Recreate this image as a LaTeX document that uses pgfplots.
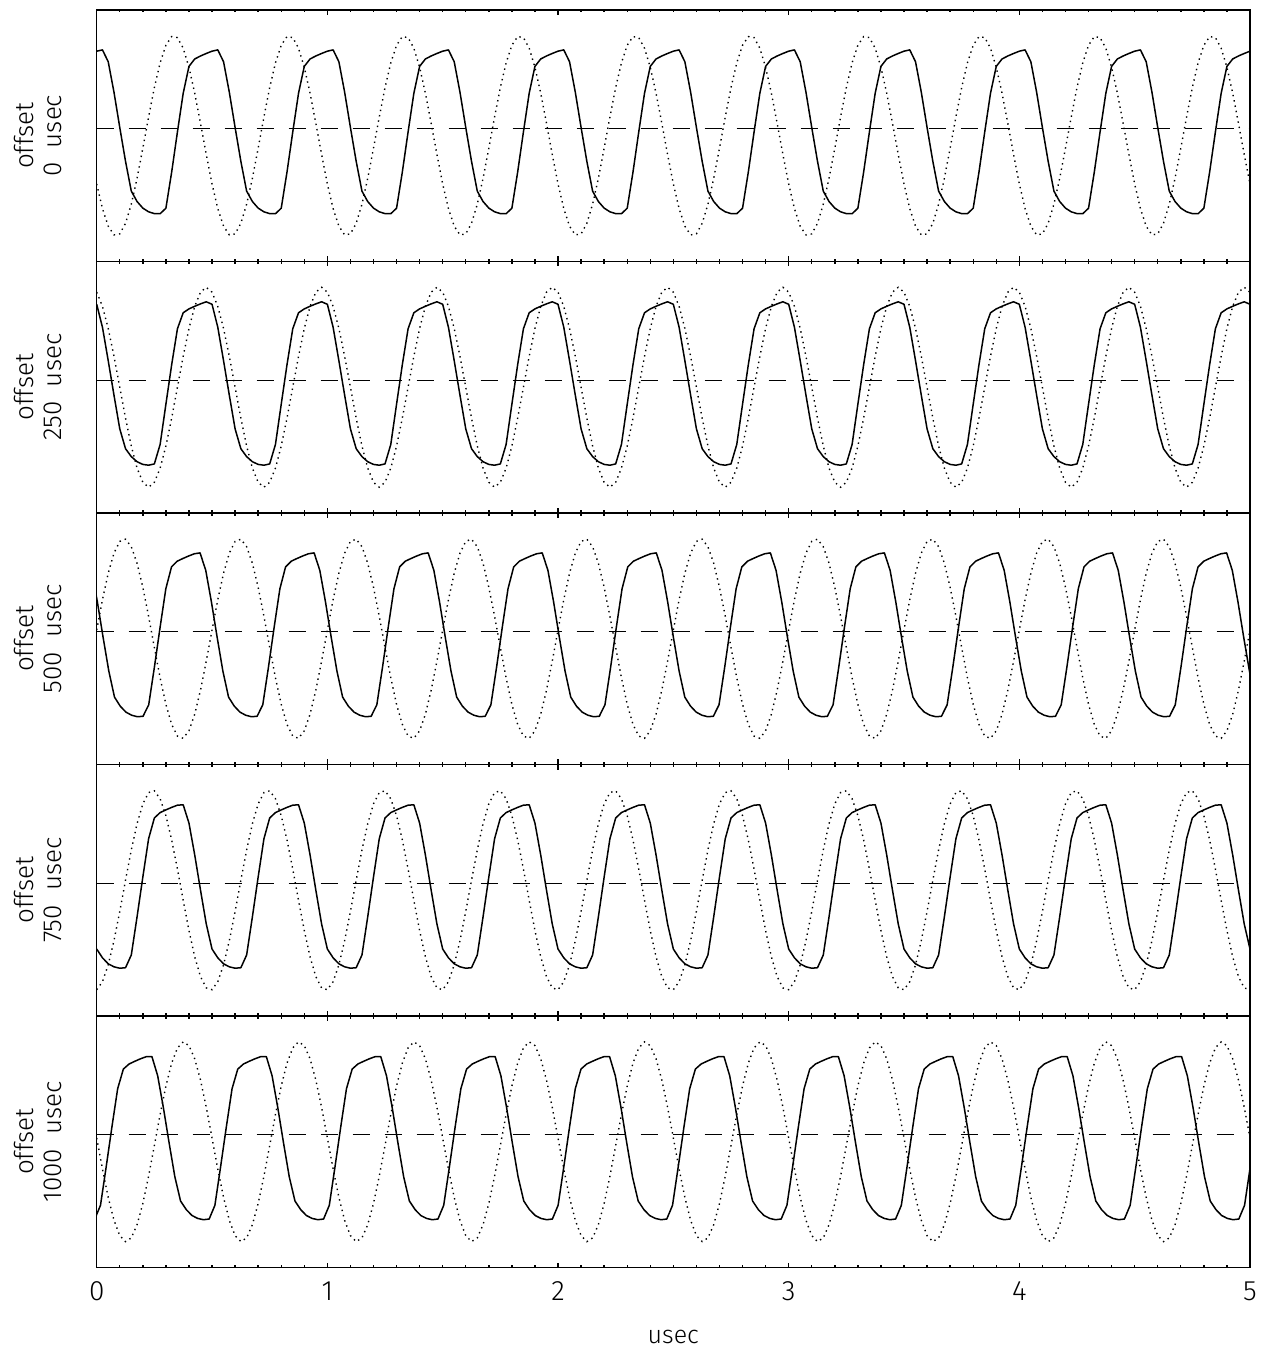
\documentclass[border=0pt]{standalone}
\usepackage{fontspec}
\setmainfont{Fira Sans Light}
\usepackage{pgfplots}
\usepackage{pgfplotstable}
\pgfplotsset{compat=1.18}

% columns: time (usec), measured signal s, reference sine d
\pgfplotstableread{
x s d
0 0.846 -0.482
0.025 0.859 -0.729
0.05 0.740 -0.905
0.075 0.435 -0.992
0.1 0.083 -0.982
0.125 -0.256 -0.876
0.15 -0.554 -0.685
0.175 -0.658 -0.426
0.2 -0.724 -0.125
0.225 -0.761 0.187
0.25 -0.779 0.482
0.275 -0.780 0.729
0.3 -0.725 0.905
0.325 -0.364 0.992
0.35 0.038 0.982
0.375 0.425 0.876
0.4 0.694 0.685
0.425 0.768 0.426
0.45 0.798 0.125
0.475 0.823 -0.187
0.5 0.846 -0.482
0.525 0.859 -0.729
0.55 0.740 -0.905
0.575 0.435 -0.992
0.6 0.083 -0.982
0.625 -0.256 -0.876
0.65 -0.554 -0.685
0.675 -0.658 -0.426
0.7 -0.724 -0.125
0.725 -0.761 0.187
0.75 -0.779 0.482
0.775 -0.780 0.729
0.8 -0.725 0.905
0.825 -0.364 0.992
0.85 0.038 0.982
0.875 0.425 0.876
0.9 0.694 0.685
0.925 0.768 0.426
0.95 0.798 0.125
0.975 0.823 -0.187
1 0.846 -0.482
1.025 0.859 -0.729
1.05 0.740 -0.905
1.075 0.435 -0.992
1.1 0.083 -0.982
1.125 -0.256 -0.876
1.15 -0.554 -0.685
1.175 -0.658 -0.426
1.2 -0.724 -0.125
1.225 -0.761 0.187
1.25 -0.779 0.482
1.275 -0.780 0.729
1.3 -0.725 0.905
1.325 -0.364 0.992
1.35 0.038 0.982
1.375 0.425 0.876
1.4 0.694 0.685
1.425 0.768 0.426
1.45 0.798 0.125
1.475 0.823 -0.187
1.5 0.846 -0.482
1.525 0.859 -0.729
1.55 0.740 -0.905
1.575 0.435 -0.992
1.6 0.083 -0.982
1.625 -0.256 -0.876
1.65 -0.554 -0.685
1.675 -0.658 -0.426
1.7 -0.724 -0.125
1.725 -0.761 0.187
1.75 -0.779 0.482
1.775 -0.780 0.729
1.8 -0.725 0.905
1.825 -0.364 0.992
1.85 0.038 0.982
1.875 0.425 0.876
1.9 0.694 0.685
1.925 0.768 0.426
1.95 0.798 0.125
1.975 0.823 -0.187
2 0.846 -0.482
2.025 0.859 -0.729
2.05 0.740 -0.905
2.075 0.435 -0.992
2.1 0.083 -0.982
2.125 -0.256 -0.876
2.15 -0.554 -0.685
2.175 -0.658 -0.426
2.2 -0.724 -0.125
2.225 -0.761 0.187
2.25 -0.779 0.482
2.275 -0.780 0.729
2.3 -0.725 0.905
2.325 -0.364 0.992
2.35 0.038 0.982
2.375 0.425 0.876
2.4 0.694 0.685
2.425 0.768 0.426
2.45 0.798 0.125
2.475 0.823 -0.187
2.5 0.846 -0.482
2.525 0.859 -0.729
2.55 0.740 -0.905
2.575 0.435 -0.992
2.6 0.083 -0.982
2.625 -0.256 -0.876
2.65 -0.554 -0.685
2.675 -0.658 -0.426
2.7 -0.724 -0.125
2.725 -0.761 0.187
2.75 -0.779 0.482
2.775 -0.780 0.729
2.8 -0.725 0.905
2.825 -0.364 0.992
2.85 0.038 0.982
2.875 0.425 0.876
2.9 0.694 0.685
2.925 0.768 0.426
2.95 0.798 0.125
2.975 0.823 -0.187
3 0.846 -0.482
3.025 0.859 -0.729
3.05 0.740 -0.905
3.075 0.435 -0.992
3.1 0.083 -0.982
3.125 -0.256 -0.876
3.15 -0.554 -0.685
3.175 -0.658 -0.426
3.2 -0.724 -0.125
3.225 -0.761 0.187
3.25 -0.779 0.482
3.275 -0.780 0.729
3.3 -0.725 0.905
3.325 -0.364 0.992
3.35 0.038 0.982
3.375 0.425 0.876
3.4 0.694 0.685
3.425 0.768 0.426
3.45 0.798 0.125
3.475 0.823 -0.187
3.5 0.846 -0.482
3.525 0.859 -0.729
3.55 0.740 -0.905
3.575 0.435 -0.992
3.6 0.083 -0.982
3.625 -0.256 -0.876
3.65 -0.554 -0.685
3.675 -0.658 -0.426
3.7 -0.724 -0.125
3.725 -0.761 0.187
3.75 -0.779 0.482
3.775 -0.780 0.729
3.8 -0.725 0.905
3.825 -0.364 0.992
3.85 0.038 0.982
3.875 0.425 0.876
3.9 0.694 0.685
3.925 0.768 0.426
3.95 0.798 0.125
3.975 0.823 -0.187
4 0.846 -0.482
4.025 0.859 -0.729
4.05 0.740 -0.905
4.075 0.435 -0.992
4.1 0.083 -0.982
4.125 -0.256 -0.876
4.15 -0.554 -0.685
4.175 -0.658 -0.426
4.2 -0.724 -0.125
4.225 -0.761 0.187
4.25 -0.779 0.482
4.275 -0.780 0.729
4.3 -0.725 0.905
4.325 -0.364 0.992
4.35 0.038 0.982
4.375 0.425 0.876
4.4 0.694 0.685
4.425 0.768 0.426
4.45 0.798 0.125
4.475 0.823 -0.187
4.5 0.846 -0.482
4.525 0.859 -0.729
4.55 0.740 -0.905
4.575 0.435 -0.992
4.6 0.083 -0.982
4.625 -0.256 -0.876
4.65 -0.554 -0.685
4.675 -0.658 -0.426
4.7 -0.724 -0.125
4.725 -0.761 0.187
4.75 -0.779 0.482
4.775 -0.780 0.729
4.8 -0.725 0.905
4.825 -0.364 0.992
4.85 0.038 0.982
4.875 0.425 0.876
4.9 0.694 0.685
4.925 0.768 0.426
4.95 0.798 0.125
4.975 0.823 -0.187
5 0.846 -0.482
}\offsetA

\pgfplotstableread{
x s d
0 0.830 0.951
0.025 0.600 0.809
0.05 0.265 0.588
0.075 -0.080 0.309
0.1 -0.416 0
0.125 -0.615 -0.309
0.15 -0.694 -0.588
0.175 -0.745 -0.809
0.2 -0.772 -0.951
0.225 -0.780 -1
0.25 -0.767 -0.951
0.275 -0.572 -0.809
0.3 -0.170 -0.588
0.325 0.225 -0.309
0.35 0.585 0
0.375 0.745 0.309
0.4 0.784 0.588
0.425 0.810 0.809
0.45 0.834 0.951
0.475 0.855 1
0.5 0.830 0.951
0.525 0.600 0.809
0.55 0.265 0.588
0.575 -0.080 0.309
0.6 -0.416 0
0.625 -0.615 -0.309
0.65 -0.694 -0.588
0.675 -0.745 -0.809
0.7 -0.772 -0.951
0.725 -0.780 -1
0.75 -0.767 -0.951
0.775 -0.572 -0.809
0.8 -0.170 -0.588
0.825 0.225 -0.309
0.85 0.585 0
0.875 0.745 0.309
0.9 0.784 0.588
0.925 0.810 0.809
0.95 0.834 0.951
0.975 0.855 1
1 0.830 0.951
1.025 0.600 0.809
1.05 0.265 0.588
1.075 -0.080 0.309
1.1 -0.416 0
1.125 -0.615 -0.309
1.15 -0.694 -0.588
1.175 -0.745 -0.809
1.2 -0.772 -0.951
1.225 -0.780 -1
1.25 -0.767 -0.951
1.275 -0.572 -0.809
1.3 -0.170 -0.588
1.325 0.225 -0.309
1.35 0.585 0
1.375 0.745 0.309
1.4 0.784 0.588
1.425 0.810 0.809
1.45 0.834 0.951
1.475 0.855 1
1.5 0.830 0.951
1.525 0.600 0.809
1.55 0.265 0.588
1.575 -0.080 0.309
1.6 -0.416 0
1.625 -0.615 -0.309
1.65 -0.694 -0.588
1.675 -0.745 -0.809
1.7 -0.772 -0.951
1.725 -0.780 -1
1.75 -0.767 -0.951
1.775 -0.572 -0.809
1.8 -0.170 -0.588
1.825 0.225 -0.309
1.85 0.585 0
1.875 0.745 0.309
1.9 0.784 0.588
1.925 0.810 0.809
1.95 0.834 0.951
1.975 0.855 1
2 0.830 0.951
2.025 0.600 0.809
2.05 0.265 0.588
2.075 -0.080 0.309
2.1 -0.416 0
2.125 -0.615 -0.309
2.15 -0.694 -0.588
2.175 -0.745 -0.809
2.2 -0.772 -0.951
2.225 -0.780 -1
2.25 -0.767 -0.951
2.275 -0.572 -0.809
2.3 -0.170 -0.588
2.325 0.225 -0.309
2.35 0.585 0
2.375 0.745 0.309
2.4 0.784 0.588
2.425 0.810 0.809
2.45 0.834 0.951
2.475 0.855 1
2.5 0.830 0.951
2.525 0.600 0.809
2.55 0.265 0.588
2.575 -0.080 0.309
2.6 -0.416 0
2.625 -0.615 -0.309
2.65 -0.694 -0.588
2.675 -0.745 -0.809
2.7 -0.772 -0.951
2.725 -0.780 -1
2.75 -0.767 -0.951
2.775 -0.572 -0.809
2.8 -0.170 -0.588
2.825 0.225 -0.309
2.85 0.585 0
2.875 0.745 0.309
2.9 0.784 0.588
2.925 0.810 0.809
2.95 0.834 0.951
2.975 0.855 1
3 0.830 0.951
3.025 0.600 0.809
3.05 0.265 0.588
3.075 -0.080 0.309
3.1 -0.416 0
3.125 -0.615 -0.309
3.15 -0.694 -0.588
3.175 -0.745 -0.809
3.2 -0.772 -0.951
3.225 -0.780 -1
3.25 -0.767 -0.951
3.275 -0.572 -0.809
3.3 -0.170 -0.588
3.325 0.225 -0.309
3.35 0.585 0
3.375 0.745 0.309
3.4 0.784 0.588
3.425 0.810 0.809
3.45 0.834 0.951
3.475 0.855 1
3.5 0.830 0.951
3.525 0.600 0.809
3.55 0.265 0.588
3.575 -0.080 0.309
3.6 -0.416 0
3.625 -0.615 -0.309
3.65 -0.694 -0.588
3.675 -0.745 -0.809
3.7 -0.772 -0.951
3.725 -0.780 -1
3.75 -0.767 -0.951
3.775 -0.572 -0.809
3.8 -0.170 -0.588
3.825 0.225 -0.309
3.85 0.585 0
3.875 0.745 0.309
3.9 0.784 0.588
3.925 0.810 0.809
3.95 0.834 0.951
3.975 0.855 1
4 0.830 0.951
4.025 0.600 0.809
4.05 0.265 0.588
4.075 -0.080 0.309
4.1 -0.416 0
4.125 -0.615 -0.309
4.15 -0.694 -0.588
4.175 -0.745 -0.809
4.2 -0.772 -0.951
4.225 -0.780 -1
4.25 -0.767 -0.951
4.275 -0.572 -0.809
4.3 -0.170 -0.588
4.325 0.225 -0.309
4.35 0.585 0
4.375 0.745 0.309
4.4 0.784 0.588
4.425 0.810 0.809
4.45 0.834 0.951
4.475 0.855 1
4.5 0.830 0.951
4.525 0.600 0.809
4.55 0.265 0.588
4.575 -0.080 0.309
4.6 -0.416 0
4.625 -0.615 -0.309
4.65 -0.694 -0.588
4.675 -0.745 -0.809
4.7 -0.772 -0.951
4.725 -0.780 -1
4.75 -0.767 -0.951
4.775 -0.572 -0.809
4.8 -0.170 -0.588
4.825 0.225 -0.309
4.85 0.585 0
4.875 0.745 0.309
4.9 0.784 0.588
4.925 0.810 0.809
4.95 0.834 0.951
4.975 0.855 1
5 0.830 0.951
}\offsetB

% offset 500 usec: signal period 0.4945 usec
\pgfplotstableread{
x s
-0.0217 0.684
0.0030 0.367
0.0277 0.015
0.0525 -0.323
0.0772 -0.584
0.1019 -0.674
0.1266 -0.734
0.1514 -0.765
0.1761 -0.780
0.2008 -0.776
0.2255 -0.661
0.2503 -0.282
0.2750 0.117
0.2997 0.500
0.3244 0.719
0.3492 0.776
0.3739 0.803
0.3986 0.828
0.4233 0.850
0.4481 0.859
0.4728 0.684
0.4975 0.367
0.5222 0.015
0.5470 -0.323
0.5717 -0.584
0.5964 -0.674
0.6211 -0.734
0.6459 -0.765
0.6706 -0.780
0.6953 -0.776
0.7200 -0.661
0.7448 -0.282
0.7695 0.117
0.7942 0.500
0.8189 0.719
0.8437 0.776
0.8684 0.803
0.8931 0.828
0.9178 0.850
0.9426 0.859
0.9673 0.684
0.9920 0.367
1.0167 0.015
1.0415 -0.323
1.0662 -0.584
1.0909 -0.674
1.1156 -0.734
1.1404 -0.765
1.1651 -0.780
1.1898 -0.776
1.2145 -0.661
1.2393 -0.282
1.2640 0.117
1.2887 0.500
1.3134 0.719
1.3382 0.776
1.3629 0.803
1.3876 0.828
1.4123 0.850
1.4371 0.859
1.4618 0.684
1.4865 0.367
1.5112 0.015
1.5360 -0.323
1.5607 -0.584
1.5854 -0.674
1.6101 -0.734
1.6349 -0.765
1.6596 -0.780
1.6843 -0.776
1.7090 -0.661
1.7338 -0.282
1.7585 0.117
1.7832 0.500
1.8079 0.719
1.8327 0.776
1.8574 0.803
1.8821 0.828
1.9068 0.850
1.9316 0.859
1.9563 0.684
1.9810 0.367
2.0057 0.015
2.0305 -0.323
2.0552 -0.584
2.0799 -0.674
2.1046 -0.734
2.1294 -0.765
2.1541 -0.780
2.1788 -0.776
2.2035 -0.661
2.2283 -0.282
2.2530 0.117
2.2777 0.500
2.3024 0.719
2.3272 0.776
2.3519 0.803
2.3766 0.828
2.4013 0.850
2.4261 0.859
2.4508 0.684
2.4755 0.367
2.5002 0.015
2.5250 -0.323
2.5497 -0.584
2.5744 -0.674
2.5991 -0.734
2.6239 -0.765
2.6486 -0.780
2.6733 -0.776
2.6980 -0.661
2.7228 -0.282
2.7475 0.117
2.7722 0.500
2.7969 0.719
2.8217 0.776
2.8464 0.803
2.8711 0.828
2.8958 0.850
2.9206 0.859
2.9453 0.684
2.9700 0.367
2.9947 0.015
3.0195 -0.323
3.0442 -0.584
3.0689 -0.674
3.0936 -0.734
3.1184 -0.765
3.1431 -0.780
3.1678 -0.776
3.1925 -0.661
3.2173 -0.282
3.2420 0.117
3.2667 0.500
3.2914 0.719
3.3162 0.776
3.3409 0.803
3.3656 0.828
3.3903 0.850
3.4151 0.859
3.4398 0.684
3.4645 0.367
3.4892 0.015
3.5140 -0.323
3.5387 -0.584
3.5634 -0.674
3.5881 -0.734
3.6129 -0.765
3.6376 -0.780
3.6623 -0.776
3.6870 -0.661
3.7118 -0.282
3.7365 0.117
3.7612 0.500
3.7859 0.719
3.8107 0.776
3.8354 0.803
3.8601 0.828
3.8848 0.850
3.9096 0.859
3.9343 0.684
3.9590 0.367
3.9837 0.015
4.0085 -0.323
4.0332 -0.584
4.0579 -0.674
4.0826 -0.734
4.1074 -0.765
4.1321 -0.780
4.1568 -0.776
4.1815 -0.661
4.2063 -0.282
4.2310 0.117
4.2557 0.500
4.2804 0.719
4.3052 0.776
4.3299 0.803
4.3546 0.828
4.3793 0.850
4.4041 0.859
4.4288 0.684
4.4535 0.367
4.4782 0.015
4.5030 -0.323
4.5277 -0.584
4.5524 -0.674
4.5771 -0.734
4.6019 -0.765
4.6266 -0.780
4.6513 -0.776
4.6760 -0.661
4.7008 -0.282
4.7255 0.117
4.7502 0.500
4.7749 0.719
4.7997 0.776
4.8244 0.803
4.8491 0.828
4.8738 0.850
4.8986 0.859
4.9233 0.684
4.9480 0.367
4.9727 0.015
4.9975 -0.323
5.0222 -0.584
}\offsetCs

\pgfplotstableread{
x d
0 0.087
0.025 0.391
0.05 0.656
0.075 0.857
0.1 0.974
0.125 0.996
0.15 0.921
0.175 0.755
0.2 0.515
0.225 0.225
0.25 -0.087
0.275 -0.391
0.3 -0.656
0.325 -0.857
0.35 -0.974
0.375 -0.996
0.4 -0.921
0.425 -0.755
0.45 -0.515
0.475 -0.225
0.5 0.087
0.525 0.391
0.55 0.656
0.575 0.857
0.6 0.974
0.625 0.996
0.65 0.921
0.675 0.755
0.7 0.515
0.725 0.225
0.75 -0.087
0.775 -0.391
0.8 -0.656
0.825 -0.857
0.85 -0.974
0.875 -0.996
0.9 -0.921
0.925 -0.755
0.95 -0.515
0.975 -0.225
1 0.087
1.025 0.391
1.05 0.656
1.075 0.857
1.1 0.974
1.125 0.996
1.15 0.921
1.175 0.755
1.2 0.515
1.225 0.225
1.25 -0.087
1.275 -0.391
1.3 -0.656
1.325 -0.857
1.35 -0.974
1.375 -0.996
1.4 -0.921
1.425 -0.755
1.45 -0.515
1.475 -0.225
1.5 0.087
1.525 0.391
1.55 0.656
1.575 0.857
1.6 0.974
1.625 0.996
1.65 0.921
1.675 0.755
1.7 0.515
1.725 0.225
1.75 -0.087
1.775 -0.391
1.8 -0.656
1.825 -0.857
1.85 -0.974
1.875 -0.996
1.9 -0.921
1.925 -0.755
1.95 -0.515
1.975 -0.225
2 0.087
2.025 0.391
2.05 0.656
2.075 0.857
2.1 0.974
2.125 0.996
2.15 0.921
2.175 0.755
2.2 0.515
2.225 0.225
2.25 -0.087
2.275 -0.391
2.3 -0.656
2.325 -0.857
2.35 -0.974
2.375 -0.996
2.4 -0.921
2.425 -0.755
2.45 -0.515
2.475 -0.225
2.5 0.087
2.525 0.391
2.55 0.656
2.575 0.857
2.6 0.974
2.625 0.996
2.65 0.921
2.675 0.755
2.7 0.515
2.725 0.225
2.75 -0.087
2.775 -0.391
2.8 -0.656
2.825 -0.857
2.85 -0.974
2.875 -0.996
2.9 -0.921
2.925 -0.755
2.95 -0.515
2.975 -0.225
3 0.087
3.025 0.391
3.05 0.656
3.075 0.857
3.1 0.974
3.125 0.996
3.15 0.921
3.175 0.755
3.2 0.515
3.225 0.225
3.25 -0.087
3.275 -0.391
3.3 -0.656
3.325 -0.857
3.35 -0.974
3.375 -0.996
3.4 -0.921
3.425 -0.755
3.45 -0.515
3.475 -0.225
3.5 0.087
3.525 0.391
3.55 0.656
3.575 0.857
3.6 0.974
3.625 0.996
3.65 0.921
3.675 0.755
3.7 0.515
3.725 0.225
3.75 -0.087
3.775 -0.391
3.8 -0.656
3.825 -0.857
3.85 -0.974
3.875 -0.996
3.9 -0.921
3.925 -0.755
3.95 -0.515
3.975 -0.225
4 0.087
4.025 0.391
4.05 0.656
4.075 0.857
4.1 0.974
4.125 0.996
4.15 0.921
4.175 0.755
4.2 0.515
4.225 0.225
4.25 -0.087
4.275 -0.391
4.3 -0.656
4.325 -0.857
4.35 -0.974
4.375 -0.996
4.4 -0.921
4.425 -0.755
4.45 -0.515
4.475 -0.225
4.5 0.087
4.525 0.391
4.55 0.656
4.575 0.857
4.6 0.974
4.625 0.996
4.65 0.921
4.675 0.755
4.7 0.515
4.725 0.225
4.75 -0.087
4.775 -0.391
4.8 -0.656
4.825 -0.857
4.85 -0.974
4.875 -0.996
4.9 -0.921
4.925 -0.755
4.95 -0.515
4.975 -0.225
5 0.087
}\offsetCd

\pgfplotstableread{
x s d
0 -0.588 -0.995
0.025 -0.676 -0.915
0.05 -0.736 -0.746
0.075 -0.766 -0.504
0.1 -0.780 -0.212
0.125 -0.775 0.100
0.15 -0.648 0.403
0.175 -0.266 0.666
0.2 0.132 0.864
0.225 0.515 0.977
0.25 0.723 0.995
0.275 0.777 0.915
0.3 0.804 0.746
0.325 0.829 0.504
0.35 0.851 0.212
0.375 0.855 -0.100
0.4 0.672 -0.403
0.425 0.353 -0.666
0.45 0.002 -0.864
0.475 -0.337 -0.977
0.5 -0.588 -0.995
0.525 -0.676 -0.915
0.55 -0.736 -0.746
0.575 -0.766 -0.504
0.6 -0.780 -0.212
0.625 -0.775 0.100
0.65 -0.648 0.403
0.675 -0.266 0.666
0.7 0.132 0.864
0.725 0.515 0.977
0.75 0.723 0.995
0.775 0.777 0.915
0.8 0.804 0.746
0.825 0.829 0.504
0.85 0.851 0.212
0.875 0.855 -0.100
0.9 0.672 -0.403
0.925 0.353 -0.666
0.95 0.002 -0.864
0.975 -0.337 -0.977
1 -0.588 -0.995
1.025 -0.676 -0.915
1.05 -0.736 -0.746
1.075 -0.766 -0.504
1.1 -0.780 -0.212
1.125 -0.775 0.100
1.15 -0.648 0.403
1.175 -0.266 0.666
1.2 0.132 0.864
1.225 0.515 0.977
1.25 0.723 0.995
1.275 0.777 0.915
1.3 0.804 0.746
1.325 0.829 0.504
1.35 0.851 0.212
1.375 0.855 -0.100
1.4 0.672 -0.403
1.425 0.353 -0.666
1.45 0.002 -0.864
1.475 -0.337 -0.977
1.5 -0.588 -0.995
1.525 -0.676 -0.915
1.55 -0.736 -0.746
1.575 -0.766 -0.504
1.6 -0.780 -0.212
1.625 -0.775 0.100
1.65 -0.648 0.403
1.675 -0.266 0.666
1.7 0.132 0.864
1.725 0.515 0.977
1.75 0.723 0.995
1.775 0.777 0.915
1.8 0.804 0.746
1.825 0.829 0.504
1.85 0.851 0.212
1.875 0.855 -0.100
1.9 0.672 -0.403
1.925 0.353 -0.666
1.95 0.002 -0.864
1.975 -0.337 -0.977
2 -0.588 -0.995
2.025 -0.676 -0.915
2.05 -0.736 -0.746
2.075 -0.766 -0.504
2.1 -0.780 -0.212
2.125 -0.775 0.100
2.15 -0.648 0.403
2.175 -0.266 0.666
2.2 0.132 0.864
2.225 0.515 0.977
2.25 0.723 0.995
2.275 0.777 0.915
2.3 0.804 0.746
2.325 0.829 0.504
2.35 0.851 0.212
2.375 0.855 -0.100
2.4 0.672 -0.403
2.425 0.353 -0.666
2.45 0.002 -0.864
2.475 -0.337 -0.977
2.5 -0.588 -0.995
2.525 -0.676 -0.915
2.55 -0.736 -0.746
2.575 -0.766 -0.504
2.6 -0.780 -0.212
2.625 -0.775 0.100
2.65 -0.648 0.403
2.675 -0.266 0.666
2.7 0.132 0.864
2.725 0.515 0.977
2.75 0.723 0.995
2.775 0.777 0.915
2.8 0.804 0.746
2.825 0.829 0.504
2.85 0.851 0.212
2.875 0.855 -0.100
2.9 0.672 -0.403
2.925 0.353 -0.666
2.95 0.002 -0.864
2.975 -0.337 -0.977
3 -0.588 -0.995
3.025 -0.676 -0.915
3.05 -0.736 -0.746
3.075 -0.766 -0.504
3.1 -0.780 -0.212
3.125 -0.775 0.100
3.15 -0.648 0.403
3.175 -0.266 0.666
3.2 0.132 0.864
3.225 0.515 0.977
3.25 0.723 0.995
3.275 0.777 0.915
3.3 0.804 0.746
3.325 0.829 0.504
3.35 0.851 0.212
3.375 0.855 -0.100
3.4 0.672 -0.403
3.425 0.353 -0.666
3.45 0.002 -0.864
3.475 -0.337 -0.977
3.5 -0.588 -0.995
3.525 -0.676 -0.915
3.55 -0.736 -0.746
3.575 -0.766 -0.504
3.6 -0.780 -0.212
3.625 -0.775 0.100
3.65 -0.648 0.403
3.675 -0.266 0.666
3.7 0.132 0.864
3.725 0.515 0.977
3.75 0.723 0.995
3.775 0.777 0.915
3.8 0.804 0.746
3.825 0.829 0.504
3.85 0.851 0.212
3.875 0.855 -0.100
3.9 0.672 -0.403
3.925 0.353 -0.666
3.95 0.002 -0.864
3.975 -0.337 -0.977
4 -0.588 -0.995
4.025 -0.676 -0.915
4.05 -0.736 -0.746
4.075 -0.766 -0.504
4.1 -0.780 -0.212
4.125 -0.775 0.100
4.15 -0.648 0.403
4.175 -0.266 0.666
4.2 0.132 0.864
4.225 0.515 0.977
4.25 0.723 0.995
4.275 0.777 0.915
4.3 0.804 0.746
4.325 0.829 0.504
4.35 0.851 0.212
4.375 0.855 -0.100
4.4 0.672 -0.403
4.425 0.353 -0.666
4.45 0.002 -0.864
4.475 -0.337 -0.977
4.5 -0.588 -0.995
4.525 -0.676 -0.915
4.55 -0.736 -0.746
4.575 -0.766 -0.504
4.6 -0.780 -0.212
4.625 -0.775 0.100
4.65 -0.648 0.403
4.675 -0.266 0.666
4.7 0.132 0.864
4.725 0.515 0.977
4.75 0.723 0.995
4.775 0.777 0.915
4.8 0.804 0.746
4.825 0.829 0.504
4.85 0.851 0.212
4.875 0.855 -0.100
4.9 0.672 -0.403
4.925 0.353 -0.666
4.95 0.002 -0.864
4.975 -0.337 -0.977
5 -0.588 -0.995
}\offsetD

% offset 1000 usec: signal period 0.496 usec
\pgfplotstableread{
x s
-0.0084 -0.773
0.0164 -0.636
0.0412 -0.250
0.0660 0.148
0.0908 0.530
0.1156 0.727
0.1404 0.778
0.1652 0.805
0.1900 0.830
0.2148 0.851
0.2396 0.851
0.2644 0.660
0.2892 0.340
0.3140 -0.012
0.3388 -0.350
0.3636 -0.593
0.3884 -0.679
0.4132 -0.738
0.4380 -0.767
0.4628 -0.780
0.4876 -0.773
0.5124 -0.636
0.5372 -0.250
0.5620 0.148
0.5868 0.530
0.6116 0.727
0.6364 0.778
0.6612 0.805
0.6860 0.830
0.7108 0.851
0.7356 0.851
0.7604 0.660
0.7852 0.340
0.8100 -0.012
0.8348 -0.350
0.8596 -0.593
0.8844 -0.679
0.9092 -0.738
0.9340 -0.767
0.9588 -0.780
0.9836 -0.773
1.0084 -0.636
1.0332 -0.250
1.0580 0.148
1.0828 0.530
1.1076 0.727
1.1324 0.778
1.1572 0.805
1.1820 0.830
1.2068 0.851
1.2316 0.851
1.2564 0.660
1.2812 0.340
1.3060 -0.012
1.3308 -0.350
1.3556 -0.593
1.3804 -0.679
1.4052 -0.738
1.4300 -0.767
1.4548 -0.780
1.4796 -0.773
1.5044 -0.636
1.5292 -0.250
1.5540 0.148
1.5788 0.530
1.6036 0.727
1.6284 0.778
1.6532 0.805
1.6780 0.830
1.7028 0.851
1.7276 0.851
1.7524 0.660
1.7772 0.340
1.8020 -0.012
1.8268 -0.350
1.8516 -0.593
1.8764 -0.679
1.9012 -0.738
1.9260 -0.767
1.9508 -0.780
1.9756 -0.773
2.0004 -0.636
2.0252 -0.250
2.0500 0.148
2.0748 0.530
2.0996 0.727
2.1244 0.778
2.1492 0.805
2.1740 0.830
2.1988 0.851
2.2236 0.851
2.2484 0.660
2.2732 0.340
2.2980 -0.012
2.3228 -0.350
2.3476 -0.593
2.3724 -0.679
2.3972 -0.738
2.4220 -0.767
2.4468 -0.780
2.4716 -0.773
2.4964 -0.636
2.5212 -0.250
2.5460 0.148
2.5708 0.530
2.5956 0.727
2.6204 0.778
2.6452 0.805
2.6700 0.830
2.6948 0.851
2.7196 0.851
2.7444 0.660
2.7692 0.340
2.7940 -0.012
2.8188 -0.350
2.8436 -0.593
2.8684 -0.679
2.8932 -0.738
2.9180 -0.767
2.9428 -0.780
2.9676 -0.773
2.9924 -0.636
3.0172 -0.250
3.0420 0.148
3.0668 0.530
3.0916 0.727
3.1164 0.778
3.1412 0.805
3.1660 0.830
3.1908 0.851
3.2156 0.851
3.2404 0.660
3.2652 0.340
3.2900 -0.012
3.3148 -0.350
3.3396 -0.593
3.3644 -0.679
3.3892 -0.738
3.4140 -0.767
3.4388 -0.780
3.4636 -0.773
3.4884 -0.636
3.5132 -0.250
3.5380 0.148
3.5628 0.530
3.5876 0.727
3.6124 0.778
3.6372 0.805
3.6620 0.830
3.6868 0.851
3.7116 0.851
3.7364 0.660
3.7612 0.340
3.7860 -0.012
3.8108 -0.350
3.8356 -0.593
3.8604 -0.679
3.8852 -0.738
3.9100 -0.767
3.9348 -0.780
3.9596 -0.773
3.9844 -0.636
4.0092 -0.250
4.0340 0.148
4.0588 0.530
4.0836 0.727
4.1084 0.778
4.1332 0.805
4.1580 0.830
4.1828 0.851
4.2076 0.851
4.2324 0.660
4.2572 0.340
4.2820 -0.012
4.3068 -0.350
4.3316 -0.593
4.3564 -0.679
4.3812 -0.738
4.4060 -0.767
4.4308 -0.780
4.4556 -0.773
4.4804 -0.636
4.5052 -0.250
4.5300 0.148
4.5548 0.530
4.5796 0.727
4.6044 0.778
4.6292 0.805
4.6540 0.830
4.6788 0.851
4.7036 0.851
4.7284 0.660
4.7532 0.340
4.7780 -0.012
4.8028 -0.350
4.8276 -0.593
4.8524 -0.679
4.8772 -0.738
4.9020 -0.767
4.9268 -0.780
4.9516 -0.773
4.9764 -0.636
5.0012 -0.250
}\offsetEs

\pgfplotstableread{
x d
0 0.038
0.025 -0.273
0.05 -0.557
0.075 -0.786
0.1 -0.939
0.125 -0.999
0.15 -0.962
0.175 -0.830
0.2 -0.618
0.225 -0.345
0.25 -0.038
0.275 0.273
0.3 0.557
0.325 0.786
0.35 0.939
0.375 0.999
0.4 0.962
0.425 0.830
0.45 0.618
0.475 0.345
0.5 0.038
0.525 -0.273
0.55 -0.557
0.575 -0.786
0.6 -0.939
0.625 -0.999
0.65 -0.962
0.675 -0.830
0.7 -0.618
0.725 -0.345
0.75 -0.038
0.775 0.273
0.8 0.557
0.825 0.786
0.85 0.939
0.875 0.999
0.9 0.962
0.925 0.830
0.95 0.618
0.975 0.345
1 0.038
1.025 -0.273
1.05 -0.557
1.075 -0.786
1.1 -0.939
1.125 -0.999
1.15 -0.962
1.175 -0.830
1.2 -0.618
1.225 -0.345
1.25 -0.038
1.275 0.273
1.3 0.557
1.325 0.786
1.35 0.939
1.375 0.999
1.4 0.962
1.425 0.830
1.45 0.618
1.475 0.345
1.5 0.038
1.525 -0.273
1.55 -0.557
1.575 -0.786
1.6 -0.939
1.625 -0.999
1.65 -0.962
1.675 -0.830
1.7 -0.618
1.725 -0.345
1.75 -0.038
1.775 0.273
1.8 0.557
1.825 0.786
1.85 0.939
1.875 0.999
1.9 0.962
1.925 0.830
1.95 0.618
1.975 0.345
2 0.038
2.025 -0.273
2.05 -0.557
2.075 -0.786
2.1 -0.939
2.125 -0.999
2.15 -0.962
2.175 -0.830
2.2 -0.618
2.225 -0.345
2.25 -0.038
2.275 0.273
2.3 0.557
2.325 0.786
2.35 0.939
2.375 0.999
2.4 0.962
2.425 0.830
2.45 0.618
2.475 0.345
2.5 0.038
2.525 -0.273
2.55 -0.557
2.575 -0.786
2.6 -0.939
2.625 -0.999
2.65 -0.962
2.675 -0.830
2.7 -0.618
2.725 -0.345
2.75 -0.038
2.775 0.273
2.8 0.557
2.825 0.786
2.85 0.939
2.875 0.999
2.9 0.962
2.925 0.830
2.95 0.618
2.975 0.345
3 0.038
3.025 -0.273
3.05 -0.557
3.075 -0.786
3.1 -0.939
3.125 -0.999
3.15 -0.962
3.175 -0.830
3.2 -0.618
3.225 -0.345
3.25 -0.038
3.275 0.273
3.3 0.557
3.325 0.786
3.35 0.939
3.375 0.999
3.4 0.962
3.425 0.830
3.45 0.618
3.475 0.345
3.5 0.038
3.525 -0.273
3.55 -0.557
3.575 -0.786
3.6 -0.939
3.625 -0.999
3.65 -0.962
3.675 -0.830
3.7 -0.618
3.725 -0.345
3.75 -0.038
3.775 0.273
3.8 0.557
3.825 0.786
3.85 0.939
3.875 0.999
3.9 0.962
3.925 0.830
3.95 0.618
3.975 0.345
4 0.038
4.025 -0.273
4.05 -0.557
4.075 -0.786
4.1 -0.939
4.125 -0.999
4.15 -0.962
4.175 -0.830
4.2 -0.618
4.225 -0.345
4.25 -0.038
4.275 0.273
4.3 0.557
4.325 0.786
4.35 0.939
4.375 0.999
4.4 0.962
4.425 0.830
4.45 0.618
4.475 0.345
4.5 0.038
4.525 -0.273
4.55 -0.557
4.575 -0.786
4.6 -0.939
4.625 -0.999
4.65 -0.962
4.675 -0.830
4.7 -0.618
4.725 -0.345
4.75 -0.038
4.775 0.273
4.8 0.557
4.825 0.786
4.85 0.939
4.875 0.999
4.9 0.962
4.925 0.830
4.95 0.618
4.975 0.345
5 0.038
}\offsetEd

\pgfplotsset{
  panel/.style={
    anchor=south west,
    scale only axis,
    width=576.65pt, height=125.75pt,
    xmin=0, xmax=5, ymin=-1.258, ymax=1.258,
    axis line style={black, line width=0.7pt},
    xtick={0,1,2,3,4,5}, minor x tick num=9, xticklabels={},
    ytick={-1.258,1.258}, yticklabels={},
    tick align=inside,
    xtick style={black, line width=0.7pt,
      /pgfplots/major tick length=2.5pt, /pgfplots/minor tick length=1.25pt},
    ytick style={black, line width=0.7pt, /pgfplots/major tick length=11.5pt},
    ylabel style={at={(axis description cs:-0.0243,0.5)}, anchor=south,
      align=center, font=\fontsize{13}{14}\selectfont},
  },
  sigline/.style={black, line width=0.75pt, line join=round},
  dotline/.style={black, line width=0.7pt, dash pattern=on 0.7pt off 2pt},
  zeroline/.style={black, line width=0.7pt, dash pattern=on 8.5pt off 7.5pt},
}

\begin{document}
\begin{tikzpicture}
\path[use as bounding box] (0,0) rectangle (630pt,675.5pt);

\begin{axis}[panel, at={(48.35pt,544.75pt)}, ylabel={offset\\0\hspace{0.55em}usec}]
  \addplot[dotline] table[x=x,y=d]{\offsetA};
  \addplot[sigline] table[x=x,y=s]{\offsetA};
  \addplot[zeroline] coordinates {(0,0.07) (5,0.07)};
\end{axis}

\begin{axis}[panel, at={(48.35pt,419pt)}, ylabel={offset\\250\hspace{0.55em}usec}]
  \addplot[dotline] table[x=x,y=d]{\offsetB};
  \addplot[sigline] table[x=x,y=s]{\offsetB};
  \addplot[zeroline] coordinates {(0,0.07) (5,0.07)};
\end{axis}

\begin{axis}[panel, at={(48.35pt,293.25pt)}, ylabel={offset\\500\hspace{0.55em}usec}]
  \addplot[dotline] table[x=x,y=d]{\offsetCd};
  \addplot[sigline] table[x=x,y=s]{\offsetCs};
  \addplot[zeroline] coordinates {(0,0.07) (5,0.07)};
\end{axis}

\begin{axis}[panel, at={(48.35pt,167.5pt)}, ylabel={offset\\750\hspace{0.55em}usec}]
  \addplot[dotline] table[x=x,y=d]{\offsetD};
  \addplot[sigline] table[x=x,y=s]{\offsetD};
  \addplot[zeroline] coordinates {(0,0.07) (5,0.07)};
\end{axis}

\begin{axis}[panel, at={(48.35pt,41.75pt)}, ylabel={offset\\1000\hspace{0.55em}usec},
    xticklabels={0,1,2,3,4,5},
    xticklabel style={font=\fontsize{14}{14}\selectfont, anchor=base, yshift=-16.25pt},
    xlabel={usec},
    xlabel style={at={(axis description cs:0.5,-0.3002)}, anchor=base,
      font=\fontsize{12.5}{14}\selectfont}]
  \addplot[dotline] table[x=x,y=d]{\offsetEd};
  \addplot[sigline] table[x=x,y=s]{\offsetEs};
  \addplot[zeroline] coordinates {(0,0.07) (5,0.07)};
\end{axis}
\end{tikzpicture}
\end{document}
